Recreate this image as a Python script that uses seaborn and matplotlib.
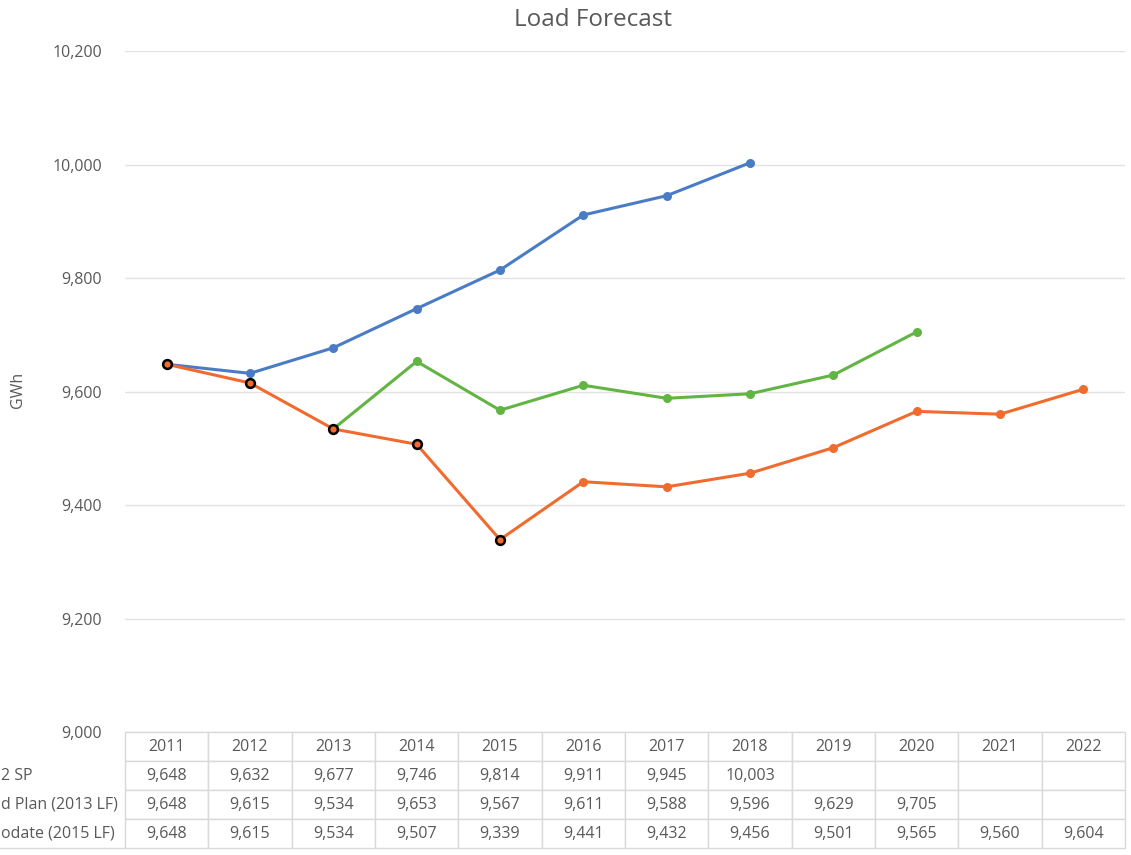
import numpy as np
import pandas as pd
import matplotlib
matplotlib.use("Agg")
import matplotlib.pyplot as plt
import seaborn as sns

years = [2011, 2012, 2013, 2014, 2015, 2016, 2017, 2018, 2019, 2020, 2021, 2022]
sp_2012 = [9648, 9632, 9677, 9746, 9814, 9911, 9945, 10003, None, None, None, None]
plan_2013 = [9648, 9615, 9534, 9653, 9567, 9611, 9588, 9596, 9629, 9705, None, None]
update_2015 = [9648, 9615, 9534, 9507, 9339, 9441, 9432, 9456, 9501, 9565, 9560, 9604]
series_names = ["2012 SP", "Approved Plan (2013 LF)", "2015 Update (2015 LF)"]
# row labels as they are visible in the (left-cropped) table
row_labels = ["2 SP", "d Plan (2013 LF)", "odate (2015 LF)"]
y_ticks = [9000, 9200, 9400, 9600, 9800, 10000, 10200]

colors = ["#4A7CC6", "#62B443", "#F06B2E"]
GRAY = "#595959"

sns.set_theme(style="white")
plt.rcParams['font.family'] = ['Open Sans', 'DejaVu Sans']

rows = []
for name, vals in zip(series_names, [sp_2012, plan_2013, update_2015]):
    for i, (yr, v) in enumerate(zip(years, vals)):
        if v is not None:
            rows.append({"idx": i, "year": yr, "value": v, "series": name})
df = pd.DataFrame(rows)

fig = plt.figure(figsize=(11.31, 8.55), dpi=100)
ax = fig.add_axes([125 / 1131, 1 - 732 / 855, 1000 / 1131, 681 / 855])

# gridlines
for t in y_ticks:
    ax.axhline(t, color="#e3e3e3", lw=1.0, zorder=0)

for k, name in enumerate(series_names):
    sub = df[df["series"] == name]
    if name == "Approved Plan (2013 LF)":
        # green line is only visible from 2013 on (hidden below orange before)
        sub = sub[sub["idx"] >= 2]
    sns.lineplot(data=sub, x="idx", y="value", ax=ax, color=colors[k],
                 lw=2.2, marker="o", markersize=6.5, markeredgewidth=0,
                 zorder=2 + k, legend=False)

# first five points of the 2015 update carry a dark outline
hi = df[(df["series"] == series_names[2]) & (df["idx"] <= 4)]
sns.scatterplot(data=hi, x="idx", y="value", ax=ax, color=colors[2],
                edgecolor="black", linewidth=1.8, s=40, zorder=6, legend=False)

ax.set_xlim(-0.5, len(years) - 0.5)
ax.set_ylim(9000, 10200)
ax.set_yticks(y_ticks)
ax.set_yticklabels([f"{t:,}" for t in y_ticks], color=GRAY, fontsize=11.5)
ax.tick_params(axis="y", length=0, pad=16.5)
ax.set_xticks([])
ax.set_xlabel("")
ax.set_ylabel("")
for s in ax.spines.values():
    s.set_visible(False)

# data table under the plot
cell_text = []
for vals in [sp_2012, plan_2013, update_2015]:
    cell_text.append([f"{v:,}" if v is not None else "" for v in vals])
tbl = ax.table(cellText=cell_text, colLabels=[str(y) for y in years],
               cellLoc="center", bbox=[0, -116 / 681, 1, 116 / 681])
tbl.auto_set_font_size(False)
tbl.set_fontsize(11.5)
for (r, c), cell in tbl.get_celld().items():
    cell.set_edgecolor("#d9d9d9")
    cell.set_linewidth(1.0)
    cell.get_text().set_color(GRAY)

row_h = 116 / 4 / 681
for i, lab in enumerate(row_labels):
    fig.text(1 / 1131, 1 - (761 + 29 * (i + 0.5)) / 855, lab,
             ha="left", va="center", fontsize=11.5, color=GRAY)
ax.plot([-0.2, 0], [-116 / 681, -116 / 681], transform=ax.transAxes,
        color="#d9d9d9", lw=1.0, clip_on=False)

fig.text(593 / 1131, 1 - 20 / 855, "Load Forecast", ha="center", va="center",
         fontsize=17.5, color=GRAY)
fig.text(18 / 1131, 1 - 390 / 855, "GWh", rotation=90, ha="center",
         va="center", fontsize=11.5, color=GRAY)

fig.savefig("out.png", dpi=100, facecolor="white")
